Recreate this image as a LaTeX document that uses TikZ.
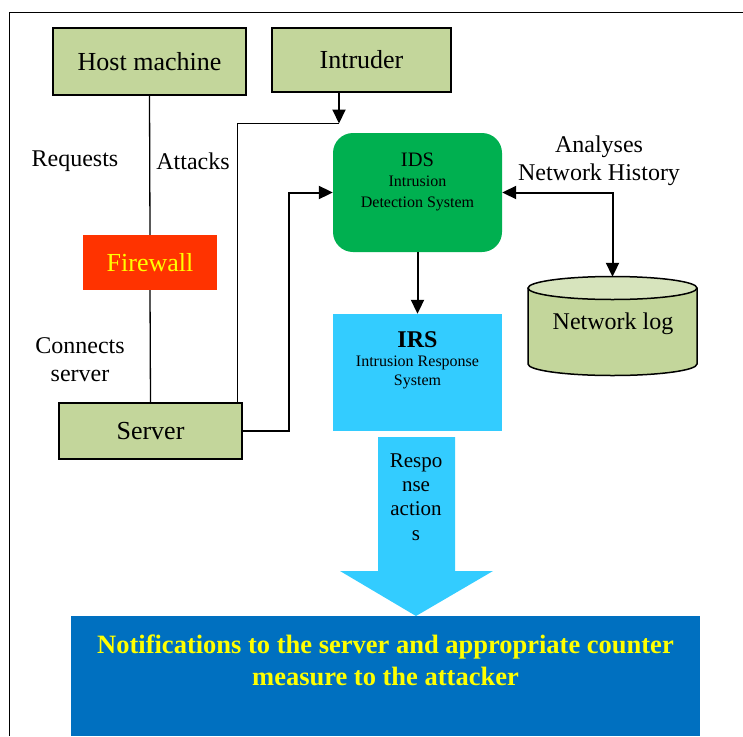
\documentclass[tikz,border=0pt]{standalone}
\usepackage{fontspec}
\setmainfont{Liberation Serif}
\usetikzlibrary{arrows.meta,positioning}

\definecolor{hostgreen}{HTML}{C3D69B}
\definecolor{idsgreen}{HTML}{00B050}
\definecolor{fwred}{HTML}{FF3300}
\definecolor{fwtext}{HTML}{FFFF00}
\definecolor{irscyan}{HTML}{33CCFF}
\definecolor{notblue}{HTML}{0070C0}
\definecolor{logtop}{HTML}{D7E4BD}

\tikzset{
  greenbox/.style={draw=black, line width=1.5pt, fill=hostgreen, inner sep=0pt,
    font=\fontsize{26}{30}\selectfont},
  lbl/.style={align=center, inner sep=0pt, font=\fontsize{24}{28}\selectfont},
  conn/.style={line width=2pt, -{Triangle[width=13pt,length=14pt]}},
  plain/.style={line width=1.3pt},
}

\begin{document}
\begin{tikzpicture}[x=1pt, y=-1pt, line join=miter]
  \useasboundingbox (0,0) rectangle (743,736);
  % outer frame (cut off at right and bottom)
  \draw[line width=1.5pt] (9.5,736) -- (9.5,12.5) -- (743,12.5);

  \node (host) [greenbox, minimum width=193pt, minimum height=67pt] at (149.5,61.5) {Host machine};
  \node (intruder) [greenbox, minimum width=179pt, minimum height=64pt] at (361.5,60) {Intruder};
  \node (firewall) [fill=fwred, text=fwtext, minimum width=134pt, minimum height=55pt, inner sep=0pt,
    font=\fontsize{26}{30}\selectfont] at (150,262.5) {Firewall};
  \node (server) [greenbox, minimum width=183pt, minimum height=56pt] at (150.5,431) {Server};

  \node (ids) [fill=idsgreen, rounded corners=20pt, minimum width=169pt, minimum height=119pt] at (417.5,192.5) {};
  \node (idstext) [align=center, inner sep=0pt, font=\fontsize{16}{20.5}\selectfont]
    at ([yshift=-49pt]ids.north) {{\fontsize{20.5}{20.5}\selectfont IDS}\\Intrusion\\Detection System};
  \node (irs) [fill=irscyan, minimum width=169pt, minimum height=117pt] at (417.5,372.5) {};
  \node (irstext) [align=center, inner sep=0pt, font=\fontsize{16}{19}\selectfont]
    at ([yshift=-46pt]irs.north) {{\fontsize{24}{24}\selectfont\bfseries IRS}\\Intrusion Response\\System};

  % network log cylinder
  \fill[hostgreen] (528,288) -- (528,364) arc[start angle=180, end angle=360, x radius=84.5pt, y radius=11.5pt]
    -- (697,288) -- cycle;
  \draw[line width=1.5pt] (528,288) -- (528,364) arc[start angle=180, end angle=360, x radius=84.5pt, y radius=11.5pt]
    -- (697,288);
  \draw[line width=1.5pt, fill=logtop] (612.5,288) ellipse[x radius=84.5pt, y radius=11.5pt];
  \node (netlog) [minimum width=169pt, minimum height=98pt, inner sep=0pt] at (612.5,326) {};
  \node (logtext) [lbl] at (613,324) {Network log};

  % response block arrow
  \fill[irscyan] (378,437) -- (455,437) -- (455,571) -- (493,571) -- (416,616) -- (340,571) -- (378,571) -- cycle;
  \node (resp) [align=center, inner sep=0pt, font=\fontsize{21}{24.3}\selectfont] at (416,497) {Respo\\nse\\action\\s};

  \node (notify) [fill=notblue, minimum width=629pt, minimum height=120pt, anchor=north] at (385.5,616) {};
  \node (notifytext) [align=center, inner sep=0pt, text=fwtext, font=\fontsize{26.5}{32}\selectfont\bfseries]
    at (385.5,660) {Notifications to the server and appropriate counter\\measure to the attacker};

  % labels
  \node (requests) [lbl] at (75,161) {Requests};
  \node (attacks) [lbl] at (193,161) {Attacks};
  \node (connects) [lbl] at (80,360) {Connects\\server};
  \node (analyses) [lbl] at (599,161) {Analyses\\Network History};

  % connectors
  \coordinate (atk) at (237.5,123.5);
  \coordinate (join) at (339,123.5);
  \draw[plain] (host.south) -- (firewall.north);
  \draw[plain] (firewall.south) -- (server.north);
  \draw[line width=1.5pt] (atk |- server.north) -- (atk) -- (join);
  \draw[conn] (join |- intruder.south) -- (join);
  \draw[conn] (server.east) -- ++(46,0) |- (ids.west);
  \draw[conn] (ids.south) -- (irs.north);
  \draw[conn, {Triangle[width=13pt,length=14pt]}-{Triangle[width=13pt,length=14pt]}] (ids.east) -| (netlog.north);
\end{tikzpicture}
\end{document}
